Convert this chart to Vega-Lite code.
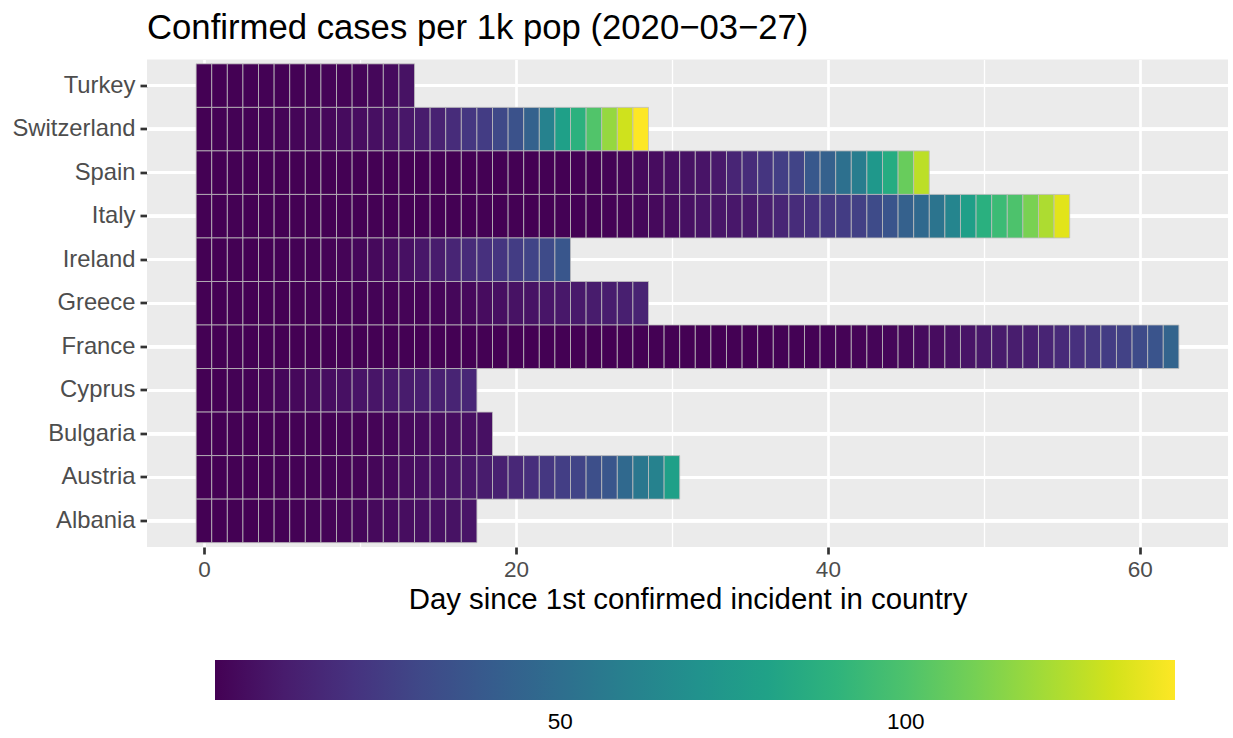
{
  "$schema": "https://vega.github.io/schema/vega-lite/v6.json",
  "autosize": {"type": "none"},
  "width": 1081,
  "height": 487.5,
  "padding": {"left": 147, "top": 59.5, "right": 5, "bottom": 191},
  "title": {
    "text": "Confirmed cases per 1k pop (2020−03−27)",
    "anchor": "start",
    "frame": "group",
    "fontSize": 34.7,
    "fontWeight": "normal",
    "color": "#000000",
    "offset": 13
  },
  "config": {
    "font": "Liberation Sans",
    "background": "#ffffff",
    "view": {"fill": "#ebebeb", "stroke": null}
  },
  "data": {
    "values": [
      {"country": "Turkey", "day": 0, "cases": 0},
      {"country": "Turkey", "day": 1, "cases": 0.05},
      {"country": "Turkey", "day": 2, "cases": 0.1},
      {"country": "Turkey", "day": 3, "cases": 0.2},
      {"country": "Turkey", "day": 4, "cases": 0.3},
      {"country": "Turkey", "day": 5, "cases": 0.4},
      {"country": "Turkey", "day": 6, "cases": 0.5},
      {"country": "Turkey", "day": 7, "cases": 0.7},
      {"country": "Turkey", "day": 8, "cases": 0.9},
      {"country": "Turkey", "day": 9, "cases": 1.2},
      {"country": "Turkey", "day": 10, "cases": 1.6},
      {"country": "Turkey", "day": 11, "cases": 2.2},
      {"country": "Turkey", "day": 12, "cases": 3.5},
      {"country": "Turkey", "day": 13, "cases": 6},
      {"country": "Switzerland", "day": 0, "cases": 0.1},
      {"country": "Switzerland", "day": 1, "cases": 0.2},
      {"country": "Switzerland", "day": 2, "cases": 0.3},
      {"country": "Switzerland", "day": 3, "cases": 0.4},
      {"country": "Switzerland", "day": 4, "cases": 0.6},
      {"country": "Switzerland", "day": 5, "cases": 1},
      {"country": "Switzerland", "day": 6, "cases": 1.5},
      {"country": "Switzerland", "day": 7, "cases": 2},
      {"country": "Switzerland", "day": 8, "cases": 2.6},
      {"country": "Switzerland", "day": 9, "cases": 3.5},
      {"country": "Switzerland", "day": 10, "cases": 4.2},
      {"country": "Switzerland", "day": 11, "cases": 5},
      {"country": "Switzerland", "day": 12, "cases": 6},
      {"country": "Switzerland", "day": 13, "cases": 8},
      {"country": "Switzerland", "day": 14, "cases": 10},
      {"country": "Switzerland", "day": 15, "cases": 12.5},
      {"country": "Switzerland", "day": 16, "cases": 17},
      {"country": "Switzerland", "day": 17, "cases": 22},
      {"country": "Switzerland", "day": 18, "cases": 24},
      {"country": "Switzerland", "day": 19, "cases": 30},
      {"country": "Switzerland", "day": 20, "cases": 35},
      {"country": "Switzerland", "day": 21, "cases": 43},
      {"country": "Switzerland", "day": 22, "cases": 61},
      {"country": "Switzerland", "day": 23, "cases": 79},
      {"country": "Switzerland", "day": 24, "cases": 89},
      {"country": "Switzerland", "day": 25, "cases": 101},
      {"country": "Switzerland", "day": 26, "cases": 117},
      {"country": "Switzerland", "day": 27, "cases": 129},
      {"country": "Switzerland", "day": 28, "cases": 139},
      {"country": "Spain", "day": 0, "cases": 0.01},
      {"country": "Spain", "day": 1, "cases": 0.01},
      {"country": "Spain", "day": 2, "cases": 0.01},
      {"country": "Spain", "day": 3, "cases": 0.01},
      {"country": "Spain", "day": 4, "cases": 0.01},
      {"country": "Spain", "day": 5, "cases": 0.01},
      {"country": "Spain", "day": 6, "cases": 0.01},
      {"country": "Spain", "day": 7, "cases": 0.02},
      {"country": "Spain", "day": 8, "cases": 0.02},
      {"country": "Spain", "day": 9, "cases": 0.02},
      {"country": "Spain", "day": 10, "cases": 0.02},
      {"country": "Spain", "day": 11, "cases": 0.02},
      {"country": "Spain", "day": 12, "cases": 0.02},
      {"country": "Spain", "day": 13, "cases": 0.02},
      {"country": "Spain", "day": 14, "cases": 0.02},
      {"country": "Spain", "day": 15, "cases": 0.02},
      {"country": "Spain", "day": 16, "cases": 0.02},
      {"country": "Spain", "day": 17, "cases": 0.02},
      {"country": "Spain", "day": 18, "cases": 0.02},
      {"country": "Spain", "day": 19, "cases": 0.02},
      {"country": "Spain", "day": 20, "cases": 0.02},
      {"country": "Spain", "day": 21, "cases": 0.03},
      {"country": "Spain", "day": 22, "cases": 0.05},
      {"country": "Spain", "day": 23, "cases": 0.1},
      {"country": "Spain", "day": 24, "cases": 0.2},
      {"country": "Spain", "day": 25, "cases": 0.4},
      {"country": "Spain", "day": 26, "cases": 0.7},
      {"country": "Spain", "day": 27, "cases": 1.4},
      {"country": "Spain", "day": 28, "cases": 2.8},
      {"country": "Spain", "day": 29, "cases": 4},
      {"country": "Spain", "day": 30, "cases": 5},
      {"country": "Spain", "day": 31, "cases": 6},
      {"country": "Spain", "day": 32, "cases": 7},
      {"country": "Spain", "day": 33, "cases": 9},
      {"country": "Spain", "day": 34, "cases": 14},
      {"country": "Spain", "day": 35, "cases": 17},
      {"country": "Spain", "day": 36, "cases": 21},
      {"country": "Spain", "day": 37, "cases": 25},
      {"country": "Spain", "day": 38, "cases": 28},
      {"country": "Spain", "day": 39, "cases": 38},
      {"country": "Spain", "day": 40, "cases": 42},
      {"country": "Spain", "day": 41, "cases": 51},
      {"country": "Spain", "day": 42, "cases": 58},
      {"country": "Spain", "day": 43, "cases": 74},
      {"country": "Spain", "day": 44, "cases": 86},
      {"country": "Spain", "day": 45, "cases": 107},
      {"country": "Spain", "day": 46, "cases": 125},
      {"country": "Italy", "day": 0, "cases": 0.01},
      {"country": "Italy", "day": 1, "cases": 0.01},
      {"country": "Italy", "day": 2, "cases": 0.01},
      {"country": "Italy", "day": 3, "cases": 0.01},
      {"country": "Italy", "day": 4, "cases": 0.01},
      {"country": "Italy", "day": 5, "cases": 0.01},
      {"country": "Italy", "day": 6, "cases": 0.01},
      {"country": "Italy", "day": 7, "cases": 0.01},
      {"country": "Italy", "day": 8, "cases": 0.01},
      {"country": "Italy", "day": 9, "cases": 0.01},
      {"country": "Italy", "day": 10, "cases": 0.01},
      {"country": "Italy", "day": 11, "cases": 0.01},
      {"country": "Italy", "day": 12, "cases": 0.01},
      {"country": "Italy", "day": 13, "cases": 0.01},
      {"country": "Italy", "day": 14, "cases": 0.01},
      {"country": "Italy", "day": 15, "cases": 0.01},
      {"country": "Italy", "day": 16, "cases": 0.01},
      {"country": "Italy", "day": 17, "cases": 0.01},
      {"country": "Italy", "day": 18, "cases": 0.01},
      {"country": "Italy", "day": 19, "cases": 0.01},
      {"country": "Italy", "day": 20, "cases": 0.01},
      {"country": "Italy", "day": 21, "cases": 0.03},
      {"country": "Italy", "day": 22, "cases": 0.1},
      {"country": "Italy", "day": 23, "cases": 0.2},
      {"country": "Italy", "day": 24, "cases": 0.3},
      {"country": "Italy", "day": 25, "cases": 0.4},
      {"country": "Italy", "day": 26, "cases": 0.8},
      {"country": "Italy", "day": 27, "cases": 1},
      {"country": "Italy", "day": 28, "cases": 2},
      {"country": "Italy", "day": 29, "cases": 3},
      {"country": "Italy", "day": 30, "cases": 4},
      {"country": "Italy", "day": 31, "cases": 5.5},
      {"country": "Italy", "day": 32, "cases": 7},
      {"country": "Italy", "day": 33, "cases": 7.6},
      {"country": "Italy", "day": 34, "cases": 8.3},
      {"country": "Italy", "day": 35, "cases": 9},
      {"country": "Italy", "day": 36, "cases": 11},
      {"country": "Italy", "day": 37, "cases": 14},
      {"country": "Italy", "day": 38, "cases": 17},
      {"country": "Italy", "day": 39, "cases": 19.5},
      {"country": "Italy", "day": 40, "cases": 22},
      {"country": "Italy", "day": 41, "cases": 24},
      {"country": "Italy", "day": 42, "cases": 26},
      {"country": "Italy", "day": 43, "cases": 31},
      {"country": "Italy", "day": 44, "cases": 36},
      {"country": "Italy", "day": 45, "cases": 42},
      {"country": "Italy", "day": 46, "cases": 47},
      {"country": "Italy", "day": 47, "cases": 53},
      {"country": "Italy", "day": 48, "cases": 63},
      {"country": "Italy", "day": 49, "cases": 78},
      {"country": "Italy", "day": 50, "cases": 88},
      {"country": "Italy", "day": 51, "cases": 95},
      {"country": "Italy", "day": 52, "cases": 100},
      {"country": "Italy", "day": 53, "cases": 111},
      {"country": "Italy", "day": 54, "cases": 122},
      {"country": "Italy", "day": 55, "cases": 133},
      {"country": "Ireland", "day": 0, "cases": 0},
      {"country": "Ireland", "day": 1, "cases": 0},
      {"country": "Ireland", "day": 2, "cases": 0},
      {"country": "Ireland", "day": 3, "cases": 0},
      {"country": "Ireland", "day": 4, "cases": 0.1},
      {"country": "Ireland", "day": 5, "cases": 0.2},
      {"country": "Ireland", "day": 6, "cases": 0.3},
      {"country": "Ireland", "day": 7, "cases": 0.5},
      {"country": "Ireland", "day": 8, "cases": 0.8},
      {"country": "Ireland", "day": 9, "cases": 1.2},
      {"country": "Ireland", "day": 10, "cases": 2},
      {"country": "Ireland", "day": 11, "cases": 3},
      {"country": "Ireland", "day": 12, "cases": 4},
      {"country": "Ireland", "day": 13, "cases": 5.5},
      {"country": "Ireland", "day": 14, "cases": 8},
      {"country": "Ireland", "day": 15, "cases": 10},
      {"country": "Ireland", "day": 16, "cases": 14},
      {"country": "Ireland", "day": 17, "cases": 16.5},
      {"country": "Ireland", "day": 18, "cases": 19},
      {"country": "Ireland", "day": 19, "cases": 21},
      {"country": "Ireland", "day": 20, "cases": 24},
      {"country": "Ireland", "day": 21, "cases": 28},
      {"country": "Ireland", "day": 22, "cases": 31},
      {"country": "Ireland", "day": 23, "cases": 37},
      {"country": "Greece", "day": 0, "cases": 0},
      {"country": "Greece", "day": 1, "cases": 0},
      {"country": "Greece", "day": 2, "cases": 0},
      {"country": "Greece", "day": 3, "cases": 0.05},
      {"country": "Greece", "day": 4, "cases": 0.1},
      {"country": "Greece", "day": 5, "cases": 0.1},
      {"country": "Greece", "day": 6, "cases": 0.15},
      {"country": "Greece", "day": 7, "cases": 0.2},
      {"country": "Greece", "day": 8, "cases": 0.3},
      {"country": "Greece", "day": 9, "cases": 0.4},
      {"country": "Greece", "day": 10, "cases": 0.5},
      {"country": "Greece", "day": 11, "cases": 0.6},
      {"country": "Greece", "day": 12, "cases": 0.8},
      {"country": "Greece", "day": 13, "cases": 1},
      {"country": "Greece", "day": 14, "cases": 1.2},
      {"country": "Greece", "day": 15, "cases": 1.5},
      {"country": "Greece", "day": 16, "cases": 2},
      {"country": "Greece", "day": 17, "cases": 3},
      {"country": "Greece", "day": 18, "cases": 4},
      {"country": "Greece", "day": 19, "cases": 5},
      {"country": "Greece", "day": 20, "cases": 6},
      {"country": "Greece", "day": 21, "cases": 6.5},
      {"country": "Greece", "day": 22, "cases": 7.5},
      {"country": "Greece", "day": 23, "cases": 8.5},
      {"country": "Greece", "day": 24, "cases": 9},
      {"country": "Greece", "day": 25, "cases": 10},
      {"country": "Greece", "day": 26, "cases": 10.5},
      {"country": "Greece", "day": 27, "cases": 11.5},
      {"country": "Greece", "day": 28, "cases": 13},
      {"country": "France", "day": 0, "cases": 0.01},
      {"country": "France", "day": 1, "cases": 0.01},
      {"country": "France", "day": 2, "cases": 0.01},
      {"country": "France", "day": 3, "cases": 0.01},
      {"country": "France", "day": 4, "cases": 0.01},
      {"country": "France", "day": 5, "cases": 0.01},
      {"country": "France", "day": 6, "cases": 0.01},
      {"country": "France", "day": 7, "cases": 0.01},
      {"country": "France", "day": 8, "cases": 0.01},
      {"country": "France", "day": 9, "cases": 0.01},
      {"country": "France", "day": 10, "cases": 0.01},
      {"country": "France", "day": 11, "cases": 0.01},
      {"country": "France", "day": 12, "cases": 0.01},
      {"country": "France", "day": 13, "cases": 0.01},
      {"country": "France", "day": 14, "cases": 0.01},
      {"country": "France", "day": 15, "cases": 0.01},
      {"country": "France", "day": 16, "cases": 0.01},
      {"country": "France", "day": 17, "cases": 0.01},
      {"country": "France", "day": 18, "cases": 0.01},
      {"country": "France", "day": 19, "cases": 0.01},
      {"country": "France", "day": 20, "cases": 0.01},
      {"country": "France", "day": 21, "cases": 0.01},
      {"country": "France", "day": 22, "cases": 0.01},
      {"country": "France", "day": 23, "cases": 0.01},
      {"country": "France", "day": 24, "cases": 0.01},
      {"country": "France", "day": 25, "cases": 0.01},
      {"country": "France", "day": 26, "cases": 0.01},
      {"country": "France", "day": 27, "cases": 0.01},
      {"country": "France", "day": 28, "cases": 0.01},
      {"country": "France", "day": 29, "cases": 0.01},
      {"country": "France", "day": 30, "cases": 0.02},
      {"country": "France", "day": 31, "cases": 0.03},
      {"country": "France", "day": 32, "cases": 0.05},
      {"country": "France", "day": 33, "cases": 0.08},
      {"country": "France", "day": 34, "cases": 0.1},
      {"country": "France", "day": 35, "cases": 0.12},
      {"country": "France", "day": 36, "cases": 0.15},
      {"country": "France", "day": 37, "cases": 0.2},
      {"country": "France", "day": 38, "cases": 0.3},
      {"country": "France", "day": 39, "cases": 0.4},
      {"country": "France", "day": 40, "cases": 0.6},
      {"country": "France", "day": 41, "cases": 0.8},
      {"country": "France", "day": 42, "cases": 1},
      {"country": "France", "day": 43, "cases": 1.3},
      {"country": "France", "day": 44, "cases": 1.7},
      {"country": "France", "day": 45, "cases": 2.3},
      {"country": "France", "day": 46, "cases": 3.5},
      {"country": "France", "day": 47, "cases": 4},
      {"country": "France", "day": 48, "cases": 5.5},
      {"country": "France", "day": 49, "cases": 7},
      {"country": "France", "day": 50, "cases": 8.5},
      {"country": "France", "day": 51, "cases": 9.5},
      {"country": "France", "day": 52, "cases": 10.5},
      {"country": "France", "day": 53, "cases": 11.5},
      {"country": "France", "day": 54, "cases": 13.5},
      {"country": "France", "day": 55, "cases": 16},
      {"country": "France", "day": 56, "cases": 19},
      {"country": "France", "day": 57, "cases": 22},
      {"country": "France", "day": 58, "cases": 24},
      {"country": "France", "day": 59, "cases": 27},
      {"country": "France", "day": 60, "cases": 31},
      {"country": "France", "day": 61, "cases": 36},
      {"country": "France", "day": 62, "cases": 44},
      {"country": "Cyprus", "day": 0, "cases": 0},
      {"country": "Cyprus", "day": 1, "cases": 0.1},
      {"country": "Cyprus", "day": 2, "cases": 0.2},
      {"country": "Cyprus", "day": 3, "cases": 0.5},
      {"country": "Cyprus", "day": 4, "cases": 1},
      {"country": "Cyprus", "day": 5, "cases": 2},
      {"country": "Cyprus", "day": 6, "cases": 2.5},
      {"country": "Cyprus", "day": 7, "cases": 3.5},
      {"country": "Cyprus", "day": 8, "cases": 4.5},
      {"country": "Cyprus", "day": 9, "cases": 5.5},
      {"country": "Cyprus", "day": 10, "cases": 7},
      {"country": "Cyprus", "day": 11, "cases": 7.5},
      {"country": "Cyprus", "day": 12, "cases": 9},
      {"country": "Cyprus", "day": 13, "cases": 10},
      {"country": "Cyprus", "day": 14, "cases": 11.5},
      {"country": "Cyprus", "day": 15, "cases": 12},
      {"country": "Cyprus", "day": 16, "cases": 13.5},
      {"country": "Cyprus", "day": 17, "cases": 14.5},
      {"country": "Bulgaria", "day": 0, "cases": 0},
      {"country": "Bulgaria", "day": 1, "cases": 0},
      {"country": "Bulgaria", "day": 2, "cases": 0},
      {"country": "Bulgaria", "day": 3, "cases": 0},
      {"country": "Bulgaria", "day": 4, "cases": 0.05},
      {"country": "Bulgaria", "day": 5, "cases": 0.1},
      {"country": "Bulgaria", "day": 6, "cases": 0.2},
      {"country": "Bulgaria", "day": 7, "cases": 0.3},
      {"country": "Bulgaria", "day": 8, "cases": 0.4},
      {"country": "Bulgaria", "day": 9, "cases": 0.6},
      {"country": "Bulgaria", "day": 10, "cases": 0.8},
      {"country": "Bulgaria", "day": 11, "cases": 1.2},
      {"country": "Bulgaria", "day": 12, "cases": 1.8},
      {"country": "Bulgaria", "day": 13, "cases": 3},
      {"country": "Bulgaria", "day": 14, "cases": 3.5},
      {"country": "Bulgaria", "day": 15, "cases": 4},
      {"country": "Bulgaria", "day": 16, "cases": 4.5},
      {"country": "Bulgaria", "day": 17, "cases": 5},
      {"country": "Bulgaria", "day": 18, "cases": 5.5},
      {"country": "Austria", "day": 0, "cases": 0},
      {"country": "Austria", "day": 1, "cases": 0},
      {"country": "Austria", "day": 2, "cases": 0},
      {"country": "Austria", "day": 3, "cases": 0.1},
      {"country": "Austria", "day": 4, "cases": 0.1},
      {"country": "Austria", "day": 5, "cases": 0.2},
      {"country": "Austria", "day": 6, "cases": 0.3},
      {"country": "Austria", "day": 7, "cases": 0.4},
      {"country": "Austria", "day": 8, "cases": 0.6},
      {"country": "Austria", "day": 9, "cases": 0.8},
      {"country": "Austria", "day": 10, "cases": 1.2},
      {"country": "Austria", "day": 11, "cases": 1.8},
      {"country": "Austria", "day": 12, "cases": 2.8},
      {"country": "Austria", "day": 13, "cases": 4},
      {"country": "Austria", "day": 14, "cases": 5},
      {"country": "Austria", "day": 15, "cases": 5.5},
      {"country": "Austria", "day": 16, "cases": 7},
      {"country": "Austria", "day": 17, "cases": 8},
      {"country": "Austria", "day": 18, "cases": 10},
      {"country": "Austria", "day": 19, "cases": 12},
      {"country": "Austria", "day": 20, "cases": 15},
      {"country": "Austria", "day": 21, "cases": 18},
      {"country": "Austria", "day": 22, "cases": 22},
      {"country": "Austria", "day": 23, "cases": 25},
      {"country": "Austria", "day": 24, "cases": 28},
      {"country": "Austria", "day": 25, "cases": 33},
      {"country": "Austria", "day": 26, "cases": 37},
      {"country": "Austria", "day": 27, "cases": 47},
      {"country": "Austria", "day": 28, "cases": 55},
      {"country": "Austria", "day": 29, "cases": 61},
      {"country": "Austria", "day": 30, "cases": 79},
      {"country": "Albania", "day": 0, "cases": 0},
      {"country": "Albania", "day": 1, "cases": 0},
      {"country": "Albania", "day": 2, "cases": 0},
      {"country": "Albania", "day": 3, "cases": 0},
      {"country": "Albania", "day": 4, "cases": 0.1},
      {"country": "Albania", "day": 5, "cases": 0.2},
      {"country": "Albania", "day": 6, "cases": 0.4},
      {"country": "Albania", "day": 7, "cases": 0.7},
      {"country": "Albania", "day": 8, "cases": 1},
      {"country": "Albania", "day": 9, "cases": 1.5},
      {"country": "Albania", "day": 10, "cases": 2},
      {"country": "Albania", "day": 11, "cases": 3},
      {"country": "Albania", "day": 12, "cases": 3.5},
      {"country": "Albania", "day": 13, "cases": 4.3},
      {"country": "Albania", "day": 14, "cases": 5},
      {"country": "Albania", "day": 15, "cases": 5.5},
      {"country": "Albania", "day": 16, "cases": 6},
      {"country": "Albania", "day": 17, "cases": 7}
    ]
  },
  "encoding": {
    "y": {
      "field": "country",
      "type": "nominal",
      "sort": "descending",
      "scale": {"paddingInner": 0, "paddingOuter": 0.1},
      "axis": {
        "title": null,
        "domain": false,
        "grid": false,
        "tickColor": "#333333",
        "tickWidth": 2.7,
        "tickSize": 7,
        "labelFontSize": 23.8,
        "labelColor": "#4d4d4d",
        "labelPadding": 5
      }
    }
  },
  "layer": [
    {
      "mark": {"type": "rule", "color": "#ffffff", "strokeWidth": 2.7},
      "encoding": {}
    },
    {
      "mark": {"type": "rect", "width": 15.6, "stroke": "#bebebe", "strokeWidth": 0.8},
      "encoding": {
        "x": {
          "field": "day",
          "type": "quantitative",
          "scale": {"domain": [-3.65, 65.65], "nice": false, "zero": false},
          "axis": {
            "title": "Day since 1st confirmed incident in country",
            "values": [0, 10, 20, 30, 40, 50, 60],
            "labelExpr": "datum.value % 20 === 0 ? datum.label : ''",
            "labelOverlap": false,
            "domain": false,
            "grid": true,
            "gridColor": "#ffffff",
            "gridWidth": {"condition": {"test": "datum.value % 20 === 0", "value": 2.7}, "value": 1.35},
            "tickOpacity": {"condition": {"test": "datum.value % 20 === 0", "value": 1}, "value": 0},
            "tickColor": "#333333",
            "tickWidth": 2.7,
            "tickSize": 7,
            "labelFontSize": 22.5,
            "labelColor": "#4d4d4d",
            "labelPadding": 4,
            "titleFontSize": 29.4,
            "titleFontWeight": "normal",
            "titleColor": "#000000",
            "titlePadding": 5
          }
        },
        "color": {
          "field": "cases",
          "type": "quantitative",
          "scale": {"scheme": "viridis", "domain": [0, 139]},
          "legend": {
            "orient": "none",
            "legendX": 68,
            "legendY": 600.5,
            "direction": "horizontal",
            "gradientLength": 960,
            "gradientThickness": 40,
            "gradientStrokeWidth": 0,
            "values": [50, 100],
            "title": null,
            "labelFontSize": 22.5,
            "labelColor": "#000000",
            "labelOffset": 11,
            "labelOverlap": false
          }
        }
      }
    }
  ]
}
